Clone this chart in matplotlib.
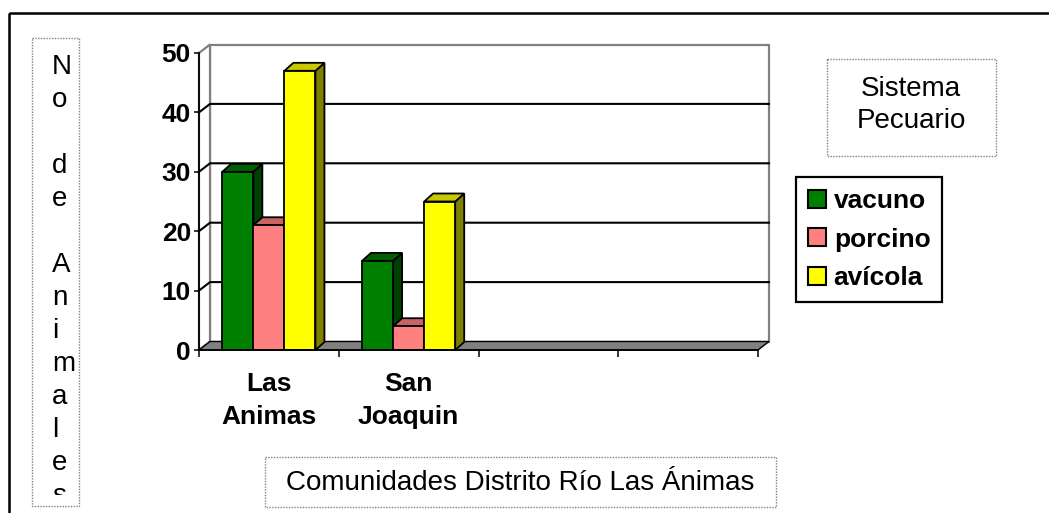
import matplotlib
matplotlib.use("Agg")
import matplotlib.pyplot as plt
from matplotlib.patches import Rectangle, Polygon, Patch
from matplotlib.lines import Line2D
from matplotlib.font_manager import FontProperties

plt.rcParams["font.family"] = ["Liberation Sans", "DejaVu Sans"]

# ── DATA ──────────────────────────────────────────────────────────────────────
categories = ["Las\nAnimas", "San\nJoaquin", "", ""]
series     = ["vacuno", "porcino", "avícola"]
vacuno     = [30, 15]
porcino    = [21, 4]
avicola    = [47, 25]
yticks     = [0, 10, 20, 30, 40, 50]

values = [vacuno, porcino, avicola]
# front / top / side shades for each series
shades = [("#008000", "#005f00", "#004000"),
          ("#ff8080", "#c86464", "#804040"),
          ("#ffff00", "#c8c800", "#808000")]

W, H = 1049, 513
fig = plt.figure(figsize=(W / 100, H / 100), dpi=100, facecolor="white")

def fx(px):  # pixel x -> figure fraction
    return px / W

def fy(py):  # pixel y (from top) -> figure fraction
    return 1 - py / H

# ── BACKGROUND CANVAS (frame, text boxes) ─────────────────────────────────────
cv = fig.add_axes([0, 0, 1, 1], zorder=0)
cv.set_xlim(0, W); cv.set_ylim(H, 0); cv.axis("off")

cv.add_patch(Rectangle((9, 13), 1100, 600, fill=False, edgecolor="black",
                       linewidth=1.8, clip_on=False))
dotted = dict(fill=False, edgecolor="#808080", linewidth=1.0, linestyle=(0, (1, 1)))
cv.add_patch(Rectangle((32, 38), 47, 468, **dotted))
cv.add_patch(Rectangle((827, 59), 169, 97, **dotted))
cv.add_patch(Rectangle((265, 457), 511, 50, **dotted))

reg = FontProperties(family="Liberation Sans", size=20)
# vertical axis title, one character per line, clipped inside its box
ylab = cv.text(52, 54, "\n".join("No de Animales"), fontproperties=reg,
               ha="left", va="top", linespacing=1.35, clip_on=True)
ylab.set_clip_path(Rectangle((32, 38), 47, 457, transform=cv.transData))
cv.text(911, 76, "Sistema\nPecuario", fontproperties=reg, ha="center",
        va="top", linespacing=1.32)
cv.text(520, 490, "Comunidades Distrito Río Las Ánimas", fontproperties=reg,
        ha="center", va="baseline")

# ── MAIN CHART ────────────────────────────────────────────────────────────────
x0, x1, y0, y50 = 199, 758, 350, 53
ax = fig.add_axes([fx(x0), fy(y0), fx(x1) - fx(x0), fy(y50) - fy(y0)], zorder=1)
ax.patch.set_visible(False)
ncat = len(categories)
ax.set_xlim(0, ncat)
ax.set_ylim(0, yticks[-1])

px_x = (x1 - x0) / ncat          # pixels per category
px_y = (y0 - y50) / yticks[-1]   # pixels per unit
wdx, wdy = 11 / px_x, 8.5 / px_y  # wall depth
bdx, bdy = 9 / px_x, 8.0 / px_y   # bar depth

# walls
top = yticks[-1]
ax.add_patch(Polygon([(wdx, wdy), (ncat + wdx, wdy), (ncat + wdx, top + wdy),
                      (wdx, top + wdy)], facecolor="white", edgecolor="#808080",
                     linewidth=1.6, clip_on=False, zorder=1))
ax.add_patch(Polygon([(0, 0), (wdx, wdy), (wdx, top + wdy), (0, top)],
                     facecolor="white", edgecolor="#808080", linewidth=1.6,
                     clip_on=False, zorder=1))
# gridlines on side and back walls
for v in yticks[1:-1]:
    ax.add_line(Line2D([0, wdx, ncat + wdx], [v, v + wdy, v + wdy],
                       color="black", linewidth=1.5, clip_on=False, zorder=1.2))
# floor
ax.add_patch(Polygon([(0, 0), (ncat, 0), (ncat + wdx, wdy), (wdx, wdy)],
                     facecolor="#808080", edgecolor="black", linewidth=1.0,
                     clip_on=False, zorder=1.5))

# bars: gap width 150 %
nser = len(series)
bw = 1 / (nser + 1.5)
for ci in range(len(vacuno)):
    start = ci + 0.5 - nser * bw / 2
    for si in range(nser):
        h = values[si][ci]
        left = start + si * bw
        front_c, top_c, side_c = shades[si]
        z = 3 + ci * 3 + si
        kw = dict(edgecolor="black", linewidth=1.3, clip_on=False, zorder=z,
                  joinstyle="miter")
        ax.add_patch(Polygon([(left + bw, 0), (left + bw + bdx, bdy),
                              (left + bw + bdx, h + bdy), (left + bw, h)],
                             facecolor=side_c, **kw))
        ax.add_patch(Polygon([(left, h), (left + bw, h), (left + bw + bdx, h + bdy),
                              (left + bdx, h + bdy)], facecolor=top_c, **kw))
        ax.add_patch(Rectangle((left, 0), bw, h, facecolor=front_c, **kw))

# axes
for s in ["top", "right"]:
    ax.spines[s].set_visible(False)
for s in ["left", "bottom"]:
    ax.spines[s].set_linewidth(1.3)
    ax.spines[s].set_zorder(20)

ax.set_yticks(yticks)
ax.set_yticklabels([str(v) for v in yticks])
ax.tick_params(axis="y", direction="out", length=3.6, width=1.1, pad=2.2,
               labelsize=19)
for lab in ax.get_yticklabels():
    lab.set_fontweight("bold")

ax.set_xticks(range(ncat + 1))
ax.set_xticklabels([])
ax.tick_params(axis="x", which="major", direction="out", length=5, width=1.1)
ax.set_xticks([i + 0.5 for i in range(ncat)], minor=True)
ax.set_xticklabels(categories, minor=True)
ax.tick_params(axis="x", which="minor", length=0, pad=15.7, labelsize=19)
for lab in ax.get_xticklabels(minor=True):
    lab.set_fontweight("bold")
    lab.set_linespacing(1.5)

# legend
handles = [Patch(facecolor=c[0], edgecolor="black", linewidth=1.5) for c in shades]
leg = fig.legend(handles, series, loc="upper left",
                 bbox_to_anchor=(fx(796), fy(177)), borderaxespad=0,
                 prop=FontProperties(family="Liberation Sans", weight="bold", size=19),
                 fancybox=False, framealpha=1, edgecolor="black",
                 handlelength=0.68, handleheight=0.68, handletextpad=0.3,
                 labelspacing=0.56, borderpad=0.45)
leg.get_frame().set_linewidth(1.6)

fig.savefig("out.png", dpi=100, facecolor="white")
